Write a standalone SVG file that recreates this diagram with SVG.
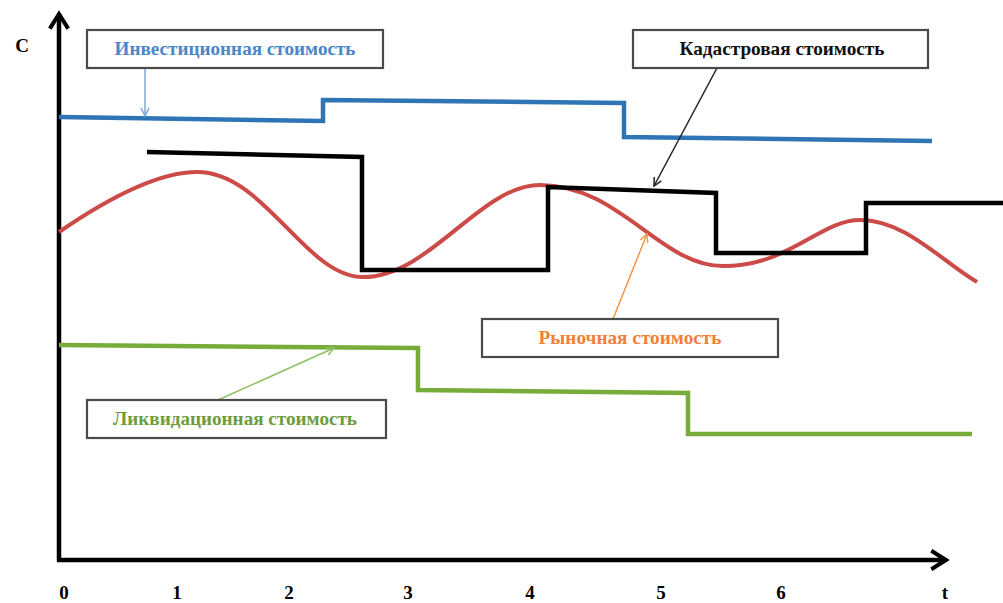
<svg xmlns="http://www.w3.org/2000/svg" width="1003" height="603" viewBox="0 0 1003 603">
<defs>
<style>
.box{fill:#fff;stroke:#4a4a4a;stroke-width:2.2}
.lbl{font-family:"Liberation Serif",serif;font-weight:bold;font-size:19px;text-anchor:middle}
.tick{font-family:"Liberation Serif",serif;font-weight:bold;font-size:19px;text-anchor:middle;fill:#000}
.step{fill:none;stroke-width:4.5;stroke-linejoin:miter}
</style>
<marker id="ah" viewBox="0 0 10 10" refX="9" refY="5" markerWidth="10" markerHeight="10" markerUnits="userSpaceOnUse" orient="auto">
<path d="M1,1 L9,5 L1,9" fill="none" stroke="context-stroke" stroke-width="1.5"/>
</marker>
<marker id="axh" viewBox="0 0 12 12" refX="10" refY="6" markerWidth="22" markerHeight="22" markerUnits="userSpaceOnUse" orient="auto">
<path d="M2,1 L10,6 L2,11" fill="none" stroke="#000" stroke-width="2.2"/>
</marker>
</defs>
<rect width="1003" height="603" fill="#fff"/>
<g id="axes">
<line x1="59" y1="561" x2="59" y2="14" stroke="#000" stroke-width="4.5" marker-end="url(#axh)"/>
<line x1="57" y1="560" x2="946" y2="560" stroke="#000" stroke-width="4.5" marker-end="url(#axh)"/>
<text x="22" y="52" class="tick">С</text>
<text x="64" y="599" class="tick">0</text>
<text x="177" y="599" class="tick">1</text>
<text x="289" y="599" class="tick">2</text>
<text x="408" y="599" class="tick">3</text>
<text x="530" y="599" class="tick">4</text>
<text x="661" y="599" class="tick">5</text>
<text x="781" y="599" class="tick">6</text>
<text x="945" y="599" class="tick">t</text>
</g>
<g id="series">
<polyline class="step" stroke="#2E75B6" points="59,117 323,121 323,100 624,103 624,137 932,141"/>
<path fill="none" stroke="#CC4A47" stroke-width="4" d="M59,232 C110,197 160,172 197,172 C265,172 305,277 363,277 C430,277 480,185 540,185 C620,185 660,266 723,266 C790,266 820,220 860,220 C905,220 940,260 977,282"/>
<polyline class="step" stroke="#000" points="147,152 362,157 362,270 548,270 548,187 716,193 716,253 866,253 866,203 1003,203"/>
<polyline class="step" stroke="#77AC3A" points="59,345 418,348 418,390 688,393 688,434 972,434"/>
</g>
<g id="connectors">
<line x1="145" y1="68" x2="145" y2="116" stroke="#7BA7D6" stroke-width="1.5" marker-end="url(#ah)"/>
<line x1="717" y1="68" x2="654" y2="186" stroke="#222" stroke-width="1.5" marker-end="url(#ah)"/>
<line x1="613" y1="319" x2="647" y2="234" stroke="#F79646" stroke-width="1.5" marker-end="url(#ah)"/>
<line x1="218" y1="400" x2="334" y2="348" stroke="#8CC063" stroke-width="1.5" marker-end="url(#ah)"/>
</g>
<g id="node-invest">
<rect class="box" x="87" y="30" width="296" height="38"/>
<text class="lbl" x="235" y="55" fill="#4A86C8" textLength="241" lengthAdjust="spacingAndGlyphs">Инвестиционная стоимость</text>
</g>
<g id="node-cadastral">
<rect class="box" x="633" y="30" width="295" height="38"/>
<text class="lbl" x="782" y="55" fill="#111" textLength="205" lengthAdjust="spacingAndGlyphs">Кадастровая стоимость</text>
</g>
<g id="node-market">
<rect class="box" x="482" y="319" width="296" height="38"/>
<text class="lbl" x="630" y="344" fill="#F0813A" textLength="183" lengthAdjust="spacingAndGlyphs">Рыночная стоимость</text>
</g>
<g id="node-liquidation">
<rect class="box" x="87" y="400" width="299" height="38"/>
<text class="lbl" x="235" y="425" fill="#6E9C3C" textLength="244" lengthAdjust="spacingAndGlyphs">Ликвидационная стоимость</text>
</g>
</svg>
